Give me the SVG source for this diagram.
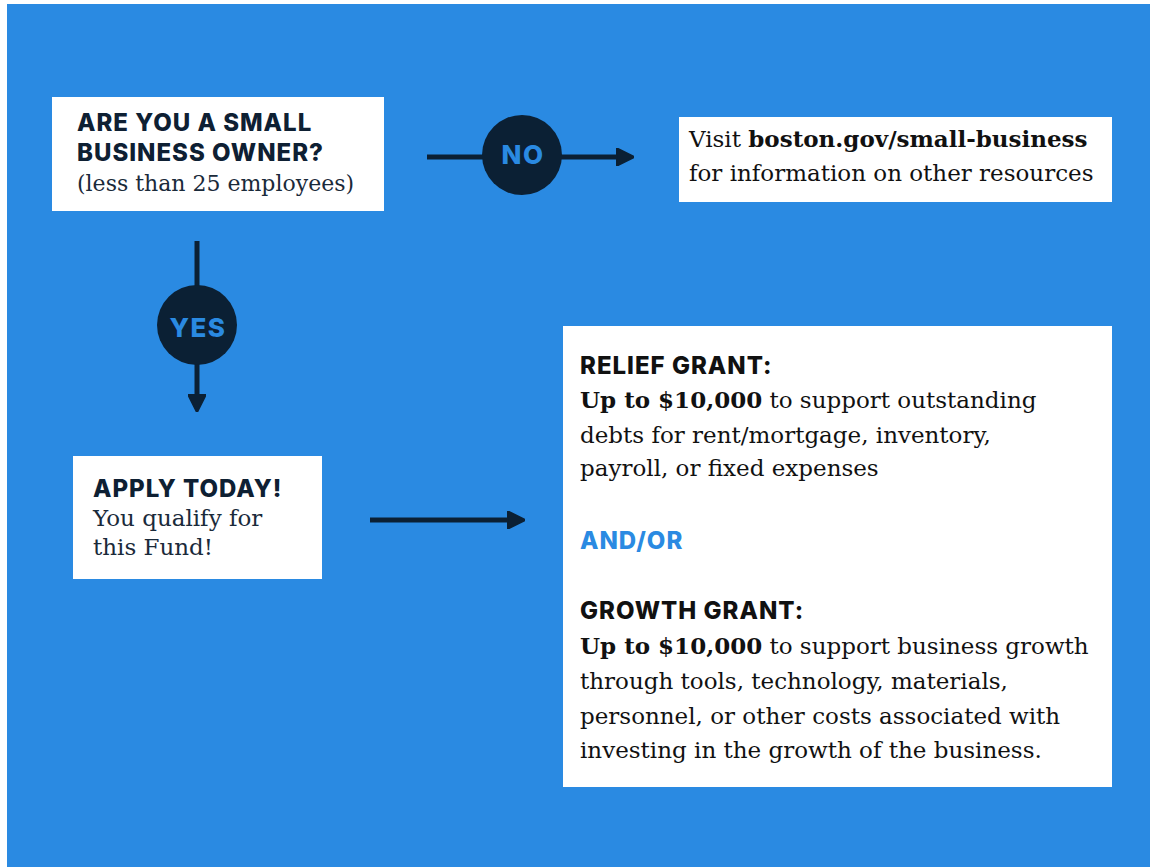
<svg xmlns="http://www.w3.org/2000/svg" width="1150" height="867" viewBox="0 0 1150 867">
<style>
.bg{fill:#2a8ae2}
.box{fill:#ffffff}
.h{font-family:Inter,"DejaVu Sans",sans-serif;font-weight:800;font-size:24px;letter-spacing:1px;fill:#0e2033}
.hb{font-family:Inter,"DejaVu Sans",sans-serif;font-weight:800;font-size:24px;letter-spacing:1px;fill:#111111}
.s{font-family:"DejaVu Serif","Liberation Serif",serif;font-size:22px;fill:#1a2a3a}
.s3{font-family:"DejaVu Serif","Liberation Serif",serif;font-size:23px;fill:#1a2a3a}
.sb{font-family:"DejaVu Serif","Liberation Serif",serif;font-size:23px;fill:#111111}
.b{font-weight:bold}
.line{stroke:#0b2034;stroke-width:5;fill:none}
.circ{fill:#0b2034}
.lbl{font-family:Inter,"DejaVu Sans",sans-serif;font-weight:800;font-size:26px;letter-spacing:1.5px;fill:#2a8ae2;text-anchor:middle}
</style>
<defs>
<marker id="arr" viewBox="0 0 10 10" refX="2" refY="5" markerWidth="3.6" markerHeight="3.6" orient="auto" markerUnits="strokeWidth">
<path d="M0,0 L10,5 L0,10 z" fill="#0b2034" stroke="#0b2034" stroke-linejoin="round" stroke-width="1"/>
</marker>
</defs>
<rect class="bg" x="7" y="4" width="1143" height="863"/>
<g id="connectors">
<line class="line" x1="427" y1="157" x2="620" y2="157" marker-end="url(#arr)"/>
<line class="line" x1="197" y1="241" x2="197" y2="398" marker-end="url(#arr)"/>
<line class="line" x1="370" y1="520" x2="511" y2="520" marker-end="url(#arr)"/>
</g>
<g id="no">
<circle class="circ" cx="522" cy="155" r="40"/>
<text class="lbl" x="523" y="164">NO</text>
</g>
<g id="yes">
<circle class="circ" cx="197" cy="325" r="40"/>
<text class="lbl" x="198" y="337">YES</text>
</g>
<g id="question">
<rect class="box" x="52" y="97" width="332" height="114"/>
<text class="h" x="77" y="131">ARE YOU A SMALL</text>
<text class="h" x="77" y="161">BUSINESS OWNER?</text>
<text class="s" x="77" y="191">(less than 25 employees)</text>
</g>
<g id="visit">
<rect class="box" x="679" y="117" width="433" height="85"/>
<text class="sb" x="689" y="147">Visit <tspan class="b">boston.gov/small-business</tspan></text>
<text class="sb" x="689" y="181">for information on other resources</text>
</g>
<g id="apply">
<rect class="box" x="73" y="456" width="249" height="123"/>
<text class="h" x="93" y="497">APPLY TODAY!</text>
<text class="s3" x="93" y="526">You qualify for</text>
<text class="s3" x="93" y="555">this Fund!</text>
</g>
<g id="grants">
<rect class="box" x="563" y="326" width="549" height="461"/>
<text class="hb" x="580" y="374">RELIEF GRANT:</text>
<text class="sb" x="580" y="408"><tspan class="b">Up to $10,000</tspan> to support outstanding</text>
<text class="sb" x="580" y="443">debts for rent/mortgage, inventory,</text>
<text class="sb" x="580" y="476">payroll, or fixed expenses</text>
<text class="h" x="580" y="549" style="fill:#2a8ae2">AND/OR</text>
<text class="hb" x="580" y="619">GROWTH GRANT:</text>
<text class="sb" x="580" y="654"><tspan class="b">Up to $10,000</tspan> to support business growth</text>
<text class="sb" x="580" y="689">through tools, technology, materials,</text>
<text class="sb" x="580" y="724">personnel, or other costs associated with</text>
<text class="sb" x="580" y="758">investing in the growth of the business.</text>
</g>
</svg>
